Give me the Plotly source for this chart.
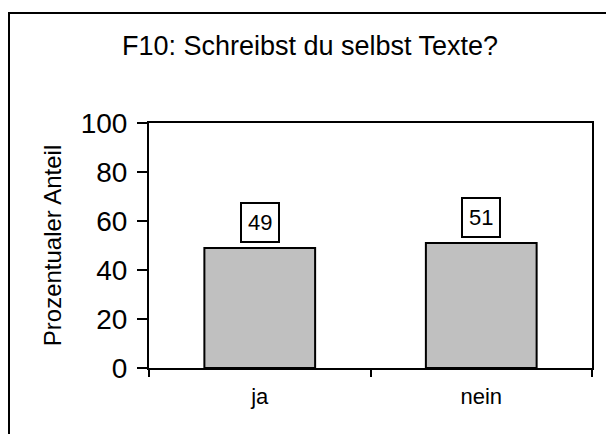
import plotly.graph_objects as go

categories = ["ja", "nein"]
values = [49, 51]
y_ticks = [0, 20, 40, 60, 80, 100]
title_text = "F10: Schreibst du selbst Texte?"
y_title = "Prozentualer Anteil"

FONT = "Liberation Sans, Arial, sans-serif"

fig = go.Figure()
fig.add_trace(go.Bar(
    x=categories, y=values,
    marker=dict(color="#c0c0c0", line=dict(color="black", width=2)),
    width=0.5,
    hoverinfo="skip",
))

for c, v in zip(categories, values):
    fig.add_annotation(
        x=c, y=v, text=str(v), showarrow=False,
        yanchor="bottom", yshift=5,
        font=dict(family=FONT, size=22, color="black"),
        bordercolor="black", borderwidth=2, borderpad=6, bgcolor="white",
    )

# outer chart border
W, H = 606, 434
L, R, T, B = 149, 14, 123, 66
pw, ph = W - L - R, H - T - B
fig.add_shape(
    type="rect", xref="paper", yref="paper",
    x0=(9 - L) / pw, x1=(W + 10 - L) / pw,
    y0=(H - B - (H + 10)) / ph, y1=(H - B - 13) / ph,
    line=dict(color="black", width=2), fillcolor="rgba(0,0,0,0)", layer="below",
)

fig.update_layout(
    width=W, height=H,
    margin=dict(l=L, r=R, t=T, b=B),
    paper_bgcolor="white", plot_bgcolor="white",
    showlegend=False,
    font=dict(family=FONT, color="black"),
    title=dict(text=title_text, x=310 / W, xanchor="center", y=1 - 46 / H, yanchor="middle",
               font=dict(family=FONT, size=27, color="black")),
    xaxis=dict(
        type="category", range=[-0.5, 1.5], tickson="boundaries",
        ticks="outside", ticklen=7, tickwidth=2, tickcolor="black",
        showline=True, linewidth=2, linecolor="black", mirror=True,
        showgrid=False, tickfont=dict(family=FONT, size=22, color="black"),
        ticklabelstandoff=8,
    ),
    yaxis=dict(
        range=[0, 100], tickvals=y_ticks, ticks="outside", ticklen=10, tickwidth=2,
        tickcolor="black", showline=True, linewidth=2, linecolor="black", mirror=True,
        showgrid=False, zeroline=False, tickfont=dict(family=FONT, size=28, color="black"),
        ticklabelstandoff=4,
        title=dict(text=y_title, font=dict(family=FONT, size=24, color="black"), standoff=12),
    ),
    bargap=0.5,
)

fig.write_html(
    "out.html",
    config={"displayModeBar": False, "staticPlot": True},
    post_script="document.body.style.margin='0';document.body.style.overflow='hidden';",
)
